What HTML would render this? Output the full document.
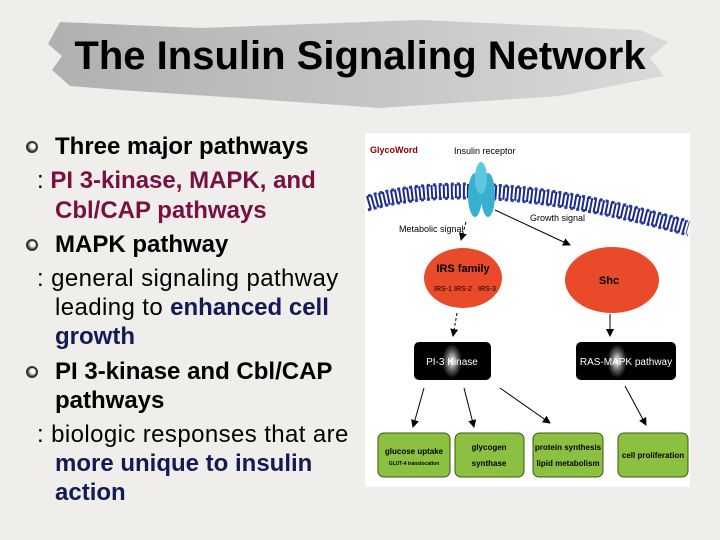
<!DOCTYPE html>
<html><head><meta charset="utf-8"><style>
body{margin:0;width:720px;height:540px;background:#efeeea;position:relative;overflow:hidden;font-family:"Liberation Sans",sans-serif}
.t{position:absolute;font-size:24px;white-space:nowrap;line-height:26px}
.r{letter-spacing:0.4px}
.b{font-weight:bold}
.m{color:#7a1040;font-weight:bold;letter-spacing:0}
.n{color:#141a55;font-weight:bold;letter-spacing:0}
.bul{position:absolute;left:26px;width:8px;height:8px;border-radius:50%;border:2px solid #333;background:radial-gradient(circle at 60% 40%,#fff 30%,#666 70%)}
</style></head><body>
<svg width="720" height="540" style="position:absolute;left:0;top:0">
<defs><linearGradient id="g" x1="0" x2="1"><stop offset="0" stop-color="#b0b0b0"/><stop offset=".5" stop-color="#c4c4c4"/><stop offset="1" stop-color="#dadada"/></linearGradient></defs>
<path d="M60 22 L200 28 L420 20 L640 30 L668 42 L650 58 L664 76 L560 96 L380 108 L240 98 L120 90 L70 86 L52 70 L62 56 L48 44 Z" fill="url(#g)"/>
<rect x="365" y="133" width="325" height="354" fill="#fff"/>
</svg>
<div style="position:absolute;left:0;width:720px;top:34px;text-align:center;font-size:40px;font-weight:bold;color:#000">The Insulin Signaling Network</div>

<div class="bul" style="top:141px"></div>
<div class="t b" style="left:55px;top:134px">Three major pathways</div>
<div class="t" style="left:37px;top:168px">: <span class="m">PI 3-kinase, MAPK, and</span></div>
<div class="t m" style="left:55px;top:198px">Cbl/CAP pathways</div>
<div class="bul" style="top:239px"></div>
<div class="t b" style="left:55px;top:232px">MAPK pathway</div>
<div class="t r" style="left:37px;top:266px">: general signaling pathway</div>
<div class="t r" style="left:55px;top:295px">leading to <span class="n">enhanced cell</span></div>
<div class="t n" style="left:55px;top:324px">growth</div>
<div class="bul" style="top:366px"></div>
<div class="t b" style="left:55px;top:359px">PI 3-kinase and Cbl/CAP</div>
<div class="t b" style="left:55px;top:388px">pathways</div>
<div class="t r" style="left:37px;top:422px">: biologic responses that are</div>
<div class="t n" style="left:55px;top:451px">more unique to insulin</div>
<div class="t n" style="left:55px;top:480px">action</div>

<svg width="720" height="540" style="position:absolute;left:0;top:0" font-family="Liberation Sans,sans-serif">
<defs><marker id="a" markerWidth="8" markerHeight="8" refX="7" refY="4" orient="auto"><path d="M0 0L8 4L0 8Z" fill="#000"/></marker>
<radialGradient id="gl"><stop offset="0" stop-color="#fff"/><stop offset=".6" stop-color="#555"/><stop offset="1" stop-color="#000"/></radialGradient></defs>
<path d="M368 203 Q480 170 688 228" stroke="#1a2a8a" stroke-width="14" fill="none" stroke-dasharray="2 2"/>
<path d="M368 203 Q480 170 688 228" stroke="#2a3aa0" stroke-width="3" fill="none" stroke-dasharray="3 3" transform="translate(0,-7)"/>
<path d="M368 203 Q480 170 688 228" stroke="#2a3aa0" stroke-width="3" fill="none" stroke-dasharray="3 3" transform="translate(0,7)"/>
<ellipse cx="475" cy="195" rx="7" ry="22" fill="#3ab0d0"/><ellipse cx="488" cy="195" rx="7" ry="22" fill="#3ab0d0"/>
<ellipse cx="481" cy="178" rx="6" ry="16" fill="#5cc8e0"/>
<text x="370" y="153" font-size="9" fill="#800" font-weight="bold">GlycoWord</text>
<text x="454" y="154" font-size="9">Insulin receptor</text>
<text x="399" y="232" font-size="9">Metabolic signal</text>
<text x="530" y="221" font-size="9">Growth signal</text>
<line x1="466" y1="222" x2="461" y2="240" stroke="#000" stroke-dasharray="3 2" marker-end="url(#a)"/>
<line x1="495" y1="210" x2="570" y2="245" stroke="#000" marker-end="url(#a)"/>
<ellipse cx="463" cy="278" rx="39" ry="30" fill="#e84a2a"/>
<text x="463" y="272" font-size="11" font-weight="bold" text-anchor="middle">IRS family</text>
<text x="443" y="291" font-size="7" text-anchor="middle">IRS-1</text><text x="463" y="291" font-size="7" text-anchor="middle">IRS-2</text><text x="487" y="291" font-size="7" text-anchor="middle">IRS-3</text>
<ellipse cx="612" cy="280" rx="47" ry="33" fill="#e84a2a"/>
<text x="609" y="284" font-size="11" font-weight="bold" text-anchor="middle">Shc</text>
<line x1="457" y1="313" x2="453" y2="336" stroke="#000" stroke-dasharray="3 2" marker-end="url(#a)"/>
<line x1="610" y1="314" x2="610" y2="336" stroke="#000" marker-end="url(#a)"/>
<rect x="414" y="342" width="77" height="38" rx="5" fill="#000"/>
<ellipse cx="452" cy="361" rx="10" ry="17" fill="url(#gl)"/>
<text x="452" y="365" font-size="10" fill="#fff" text-anchor="middle">PI-3 Kinase</text>
<rect x="576" y="342" width="100" height="38" rx="5" fill="#000"/>
<ellipse cx="617" cy="361" rx="10" ry="17" fill="url(#gl)"/>
<text x="626" y="365" font-size="10" fill="#fff" text-anchor="middle">RAS-MAPK pathway</text>
<line x1="424" y1="388" x2="413" y2="427" stroke="#000" marker-end="url(#a)"/>
<line x1="464" y1="388" x2="474" y2="427" stroke="#000" marker-end="url(#a)"/>
<line x1="500" y1="388" x2="550" y2="423" stroke="#000" marker-end="url(#a)"/>
<line x1="625" y1="386" x2="646" y2="425" stroke="#000" marker-end="url(#a)"/>
<g stroke="#3a5a10" stroke-width="1">
<rect x="378" y="433" width="72" height="44" rx="6" fill="#8cc040"/>
<rect x="455" y="433" width="69" height="44" rx="6" fill="#8cc040"/>
<rect x="533" y="433" width="70" height="44" rx="6" fill="#8cc040"/>
<rect x="618" y="433" width="70" height="44" rx="6" fill="#8cc040"/>
</g>
<g font-size="8" font-weight="bold" text-anchor="middle">
<text x="414" y="454">glucose uptake</text><text x="414" y="465" font-size="5">GLUT-4 translocation</text>
<text x="489" y="450">glycogen</text><text x="489" y="466">synthase</text>
<text x="568" y="450">protein synthesis</text><text x="568" y="466">lipid metabolism</text>
<text x="653" y="458">cell proliferation</text>
</g>
</svg>
</body></html>
